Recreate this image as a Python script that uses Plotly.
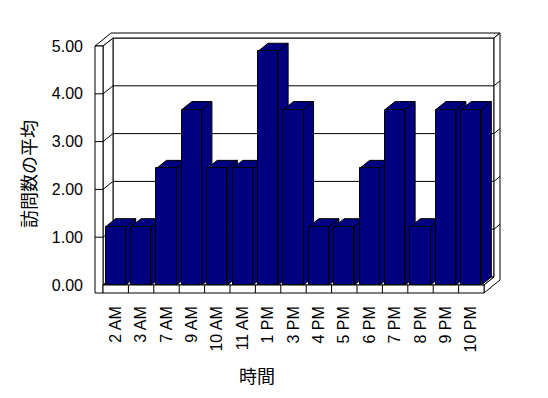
import plotly.graph_objects as go

# ---- data ----
categories = ["2 AM", "3 AM", "7 AM", "9 AM", "10 AM", "11 AM", "1 PM", "3 PM",
              "4 PM", "5 PM", "6 PM", "7 PM", "8 PM", "9 PM", "10 PM"]
values = [1.22, 1.22, 2.44, 3.67, 2.44, 2.44, 4.89, 3.67,
          1.22, 1.22, 2.44, 3.67, 1.22, 3.67, 3.67]
y_ticks = [0, 1, 2, 3, 4, 5]
y_tick_labels = ["0.00", "1.00", "2.00", "3.00", "4.00", "5.00"]
x_title = "時間"
y_title = "訪問数の平均"

# ---- geometry (pixel layout of the plot area, in window pixels) ----
W, H = 548, 398
BODY = 8               # default page body margin
PL, PR, PT, PB = 94 - BODY, 501 - BODY, 32 - BODY, 294 - BODY
CAT_PX = 25.4          # pixels per category
CAT0_PX = 115.7 - BODY # pixel x of first category center
UNIT_PX = 47.8         # pixels per value unit
ZERO_PX = 285 - BODY   # pixel y of value 0

xr = [(PL - CAT0_PX) / CAT_PX, (PR - CAT0_PX) / CAT_PX]
yr = [(ZERO_PX - PB) / UNIT_PX, (ZERO_PX - PT) / UNIT_PX]

DX, DY = 10 / CAT_PX, 8 / UNIT_PX     # depth offset
WX, FY = 8 / CAT_PX, 8 / UNIT_PX      # wall / floor thickness
BX, BY = 6 / CAT_PX, 5 / UNIT_PX      # back wall thickness
HALF = 0.395                          # half bar width (categories)
N = len(categories)
L0, R0 = -0.5, N - 0.5
VMAX = y_ticks[-1]

NAVY = "#000080"
BLACK = "#000000"


def poly(pts, fill="white"):
    d = "M " + " L ".join(f"{x},{y}" for x, y in pts) + " Z"
    return dict(type="path", path=d, xref="x", yref="y", layer="below",
                fillcolor=fill, line=dict(color=BLACK, width=1))


def seg(x0, y0, x1, y1):
    return dict(type="line", x0=x0, y0=y0, x1=x1, y1=y1, xref="x", yref="y",
                layer="below", line=dict(color=BLACK, width=1))


shapes = []
# back wall inner face
shapes.append(poly([(L0 + DX, DY), (R0 + DX, DY), (R0 + DX, VMAX + DY), (L0 + DX, VMAX + DY)]))
# left wall inner face
shapes.append(poly([(L0, 0), (L0, VMAX), (L0 + DX, VMAX + DY), (L0 + DX, DY)]))
# floor top face
shapes.append(poly([(L0, 0), (R0, 0), (R0 + DX, DY), (L0 + DX, DY)]))
# top edge of walls
shapes.append(poly([(L0 - WX, VMAX), (L0 - WX + DX + BX, VMAX + DY + BY),
                    (R0 + DX + BX, VMAX + DY + BY), (R0 + DX, VMAX + DY),
                    (L0 + DX, VMAX + DY), (L0, VMAX)]))
# right side of back wall and floor
shapes.append(poly([(R0 + DX, VMAX + DY), (R0 + DX + BX, VMAX + DY + BY),
                    (R0 + DX + BX, -FY + DY + BY), (R0, -FY), (R0, 0), (R0 + DX, DY)]))
# left wall front face
shapes.append(poly([(L0 - WX, -FY), (L0, -FY), (L0, VMAX), (L0 - WX, VMAX)]))
# floor front strip
shapes.append(poly([(L0, -FY), (R0, -FY), (R0, 0), (L0, 0)]))
# category dividers on floor front
for i in range(N - 1):
    shapes.append(seg(i + 0.5, -FY, i + 0.5, 0))
# gridlines
for v in y_ticks[1:-1]:
    shapes.append(seg(L0 + DX, v + DY, R0 + DX, v + DY))
    shapes.append(seg(L0, v, L0 + DX, v + DY))
    shapes.append(seg(R0 + DX, v + DY, R0 + DX + BX, v + DY + BY))
    shapes.append(seg(L0 - WX, v, L0, v))
# bar sides and tops
for i, v in enumerate(values):
    shapes.append(poly([(i + HALF, 0), (i + HALF, v), (i + HALF + DX, v + DY), (i + HALF + DX, DY)], NAVY))
    shapes.append(poly([(i - HALF, v), (i + HALF, v), (i + HALF + DX, v + DY), (i - HALF + DX, v + DY)], NAVY))

fig = go.Figure()
fig.add_trace(go.Bar(
    x=list(range(N)), y=values, width=2 * HALF,
    marker=dict(color=NAVY, line=dict(color=BLACK, width=1)),
    hoverinfo="skip", showlegend=False,
))


def px_to_paper_x(px):
    return (px - BODY - PL) / (PR - PL)


def px_to_paper_y(py):
    return (PB - (py - BODY)) / (PB - PT)


tick_font = dict(family="Liberation Sans, Arial, sans-serif", size=16, color=BLACK)
title_font = dict(family="Noto Sans CJK JP, sans-serif", size=18, color=BLACK)

fig.update_layout(
    width=W, height=H,
    margin=dict(l=PL, r=W - PR, t=PT, b=H - PB, pad=0),
    paper_bgcolor="white", plot_bgcolor="white",
    shapes=shapes,
    bargap=0,
    xaxis=dict(range=xr, tickvals=list(range(N)), ticktext=categories,
               tickangle=-90, showgrid=False, zeroline=False, showline=False,
               ticks="", tickfont=tick_font, ticklabelstandoff=8, fixedrange=True),
    yaxis=dict(range=yr, tickvals=y_ticks, ticktext=y_tick_labels,
               showgrid=False, zeroline=False, showline=False,
               ticks="", tickfont=tick_font, ticklabelstandoff=10, fixedrange=True),
    annotations=[
        dict(text=x_title, xref="paper", yref="paper",
             x=px_to_paper_x(257), y=px_to_paper_y(375),
             xanchor="center", yanchor="middle", showarrow=False, font=title_font),
        dict(text=y_title, xref="paper", yref="paper",
             x=px_to_paper_x(28), y=px_to_paper_y(174), textangle=-90,
             xanchor="center", yanchor="middle", showarrow=False, font=title_font),
    ],
)

fig.write_html("out.html")
